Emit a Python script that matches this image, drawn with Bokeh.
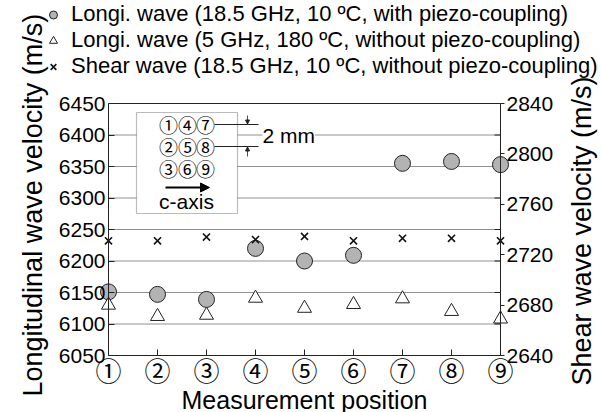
from bokeh.plotting import figure
from bokeh.models import (Range1d, LinearAxis, FixedTicker, Legend, LegendItem,
                          BoxAnnotation, Label, Arrow, NormalHead)
from bokeh.embed import file_html
from bokeh.resources import INLINE

# ---------------- data ----------------
positions = [1, 2, 3, 4, 5, 6, 7, 8, 9]
position_labels = ["①", "②", "③", "④", "⑤", "⑥", "⑦", "⑧", "⑨"]
longi_piezo = [6151, 6147, 6139, 6220, 6200, 6209, 6355, 6358, 6353]
longi_5ghz = [6130, 6112, 6114, 6141, 6125, 6131, 6140, 6120, 6108]
shear = [2731, 2731, 2734, 2732, 2734.5, 2731, 2733, 2733, 2731]
left_ticks = [6050, 6100, 6150, 6200, 6250, 6300, 6350, 6400, 6450]
right_ticks = [2640, 2680, 2720, 2760, 2800, 2840]
legend_labels = [
    "Longi. wave (18.5 GHz, 10 ºC, with piezo-coupling)",
    "Longi. wave (5 GHz, 180 ºC, without piezo-coupling)",
    "Shear wave (18.5 GHz, 10 ºC, without piezo-coupling)",
]
inset_grid = [["①", "④", "⑦"], ["②", "⑤", "⑧"], ["③", "⑥", "⑨"]]

FONT = "Liberation Sans"
CIRC_FONT = "Noto Sans CJK JP"
INK = "#222222"

W, H = 601, 412
FL, FR, FT, FB = 108, 500, 103, 355   # plot-box edges in pixels
XMIN, XMAX = positions[0], positions[-1]
YMIN, YMAX = left_ticks[0], left_ticks[-1]
SMIN, SMAX = right_ticks[0], right_ticks[-1]
kx = (XMAX - XMIN) / (FR - FL)
ky = (YMAX - YMIN) / (FB - FT)
ks = (SMAX - SMIN) / (FB - FT)

# the frame fills the whole canvas; axes are pinned at the plot-box edges
p = figure(width=W, height=H, output_backend="svg", toolbar_location=None,
           title_location=None, min_border=0,
           x_range=Range1d(XMIN - FL * kx, XMAX + (W - FR) * kx),
           y_range=Range1d(YMIN - (H - FB) * ky, YMAX + FT * ky),
           x_axis_location=None, y_axis_location=None)
p.background_fill_color = "white"
p.border_fill_color = "white"
p.outline_line_color = None
p.extra_y_ranges = {"shear": Range1d(SMIN - (H - FB) * ks, SMAX + FT * ks)}

def dx(px):
    return XMIN + (px - FL) * kx

def dy(py):
    return YMAX - (py - FT) * ky

p.xgrid.visible = False
p.ygrid.visible = False

# x axis
xa = LinearAxis(ticker=FixedTicker(ticks=positions), fixed_location=YMIN, bounds=(XMIN, XMAX))
xa.major_label_overrides = {i: s for i, s in zip(positions, position_labels)}
xa.major_label_text_font = CIRC_FONT
xa.major_label_text_font_size = "26px"
xa.major_label_text_color = "black"
xa.major_tick_in = 6
xa.major_tick_out = 0
xa.minor_tick_line_color = None
xa.major_label_standoff = -5
xa.axis_line_color = INK
xa.major_tick_line_color = INK
p.add_layout(xa, "below")

# left axis
ya = LinearAxis(ticker=FixedTicker(ticks=left_ticks), fixed_location=XMIN, bounds=(YMIN, YMAX))
ya.major_label_text_font = FONT
ya.major_label_text_font_size = "21px"
ya.major_label_text_color = "black"
ya.major_tick_in = 6
ya.major_tick_out = 0
ya.minor_tick_line_color = None
ya.major_label_standoff = 3
ya.axis_line_color = INK
ya.major_tick_line_color = INK
p.add_layout(ya, "left")

# right axis (shear)
ra = LinearAxis(y_range_name="shear", ticker=FixedTicker(ticks=right_ticks),
                fixed_location=XMAX, bounds=(SMIN, SMAX))
ra.major_label_text_font = FONT
ra.major_label_text_font_size = "21px"
ra.major_label_text_color = "black"
ra.major_tick_in = 0
ra.major_tick_out = 4
ra.minor_tick_line_color = None
ra.major_label_standoff = 2
ra.axis_line_color = INK
ra.major_tick_line_color = INK
p.add_layout(ra, "right")

# axis titles
p.add_layout(Label(x=dx(32), y=dy(396), text="Longitudinal wave velocity (m/s)",
                   angle=90, angle_units="deg", text_font=FONT, text_font_size="27px",
                   text_align="left", text_baseline="alphabetic", text_color="black"))
p.add_layout(Label(x=dx(581), y=dy(385), text="Shear wave velocity (m/s)",
                   angle=90, angle_units="deg", text_font=FONT, text_font_size="27px",
                   text_align="left", text_baseline="alphabetic", text_color="black"))
p.add_layout(Label(x=(XMIN + XMAX) / 2, y=dy(399), text="Measurement position",
                   text_font=FONT, text_font_size="25px",
                   text_align="center", text_baseline="middle", text_color="black"))

# plot box top edge, dotted grid lines and mirrored inward ticks on the right edge
p.segment(x0=[XMIN], x1=[XMAX], y0=[YMAX], y1=[YMAX], line_color=INK, line_width=1)
grid_vals = left_ticks[1:-1]
p.segment(x0=[XMIN] * len(grid_vals), x1=[XMAX] * len(grid_vals), y0=grid_vals, y1=grid_vals,
          line_color=INK, line_width=1, line_dash="1 1")
p.segment(x0=[XMAX - 6 * kx] * len(grid_vals), x1=[XMAX] * len(grid_vals),
          y0=grid_vals, y1=grid_vals, line_color=INK, line_width=1)

# data
r_circ = p.scatter(positions, longi_piezo, marker="circle", size=16,
                   fill_color="#b3b3b3", line_color=INK, line_width=1)
r_tri = p.scatter(positions, longi_5ghz, marker="triangle", size=14,
                  fill_color="white", line_color=INK, line_width=1)
r_x = p.scatter(positions, shear, marker="x", size=10, y_range_name="shear",
                line_color="#111111", line_width=1.6)

# legend at the top
LEG_H = 69
legend = Legend(items=[LegendItem(label=legend_labels[0], renderers=[r_circ]),
                       LegendItem(label=legend_labels[1], renderers=[r_tri]),
                       LegendItem(label=legend_labels[2], renderers=[r_x])],
                location=(43, H - 10 - LEG_H), orientation="vertical")
legend.label_text_font = FONT
legend.label_text_font_size = "22px"
legend.label_text_color = "black"
legend.glyph_width = 20
legend.glyph_height = 23
legend.label_height = 23
legend.label_standoff = 8
legend.spacing = 0
legend.padding = 0
legend.margin = 0
legend.border_line_color = None
legend.background_fill_alpha = 0
p.add_layout(legend)

# inset
p.add_layout(BoxAnnotation(left=dx(136), right=dx(237), top=dy(112), bottom=dy(213),
                           fill_color="white", fill_alpha=1, line_color=INK,
                           line_width=1.2, level="annotation"))
col_px = [168, 187, 205]
row_px = [124, 146, 168]
for r, row in enumerate(inset_grid):
    for c, s in enumerate(row):
        p.add_layout(Label(x=dx(col_px[c]), y=dy(row_px[r]), text=s,
                           text_font=CIRC_FONT, text_font_size="19px",
                           text_align="center", text_baseline="middle", text_color="black"))
for py in [124, 146]:
    p.add_layout(Arrow(end=None, x_start=dx(214), y_start=dy(py), x_end=dx(258), y_end=dy(py),
                       line_color=INK, line_width=1.2))
p.add_layout(Arrow(end=NormalHead(size=4, fill_color=INK, line_color=INK),
                   x_start=dx(247), y_start=dy(115), x_end=dx(247), y_end=dy(123.5),
                   line_color=INK, line_width=0.8))
p.add_layout(Arrow(end=NormalHead(size=4, fill_color=INK, line_color=INK),
                   x_start=dx(247), y_start=dy(156), x_end=dx(247), y_end=dy(146.5),
                   line_color=INK, line_width=0.8))
p.add_layout(Label(x=dx(262), y=dy(135), text="2 mm", text_font=FONT, text_font_size="21px",
                   text_baseline="middle", text_color="black",
                   background_fill_color="white", background_fill_alpha=1))
p.add_layout(Arrow(end=NormalHead(size=9, fill_color="black", line_color="black"),
                   x_start=dx(165), y_start=dy(187), x_end=dx(209), y_end=dy(187),
                   line_color="black", line_width=2))
p.add_layout(Label(x=dx(186), y=dy(201), text="c-axis", text_font=FONT, text_font_size="21px",
                   text_align="center", text_baseline="middle", text_color="black"))

open("out.html", "w").write(file_html(p, INLINE))
